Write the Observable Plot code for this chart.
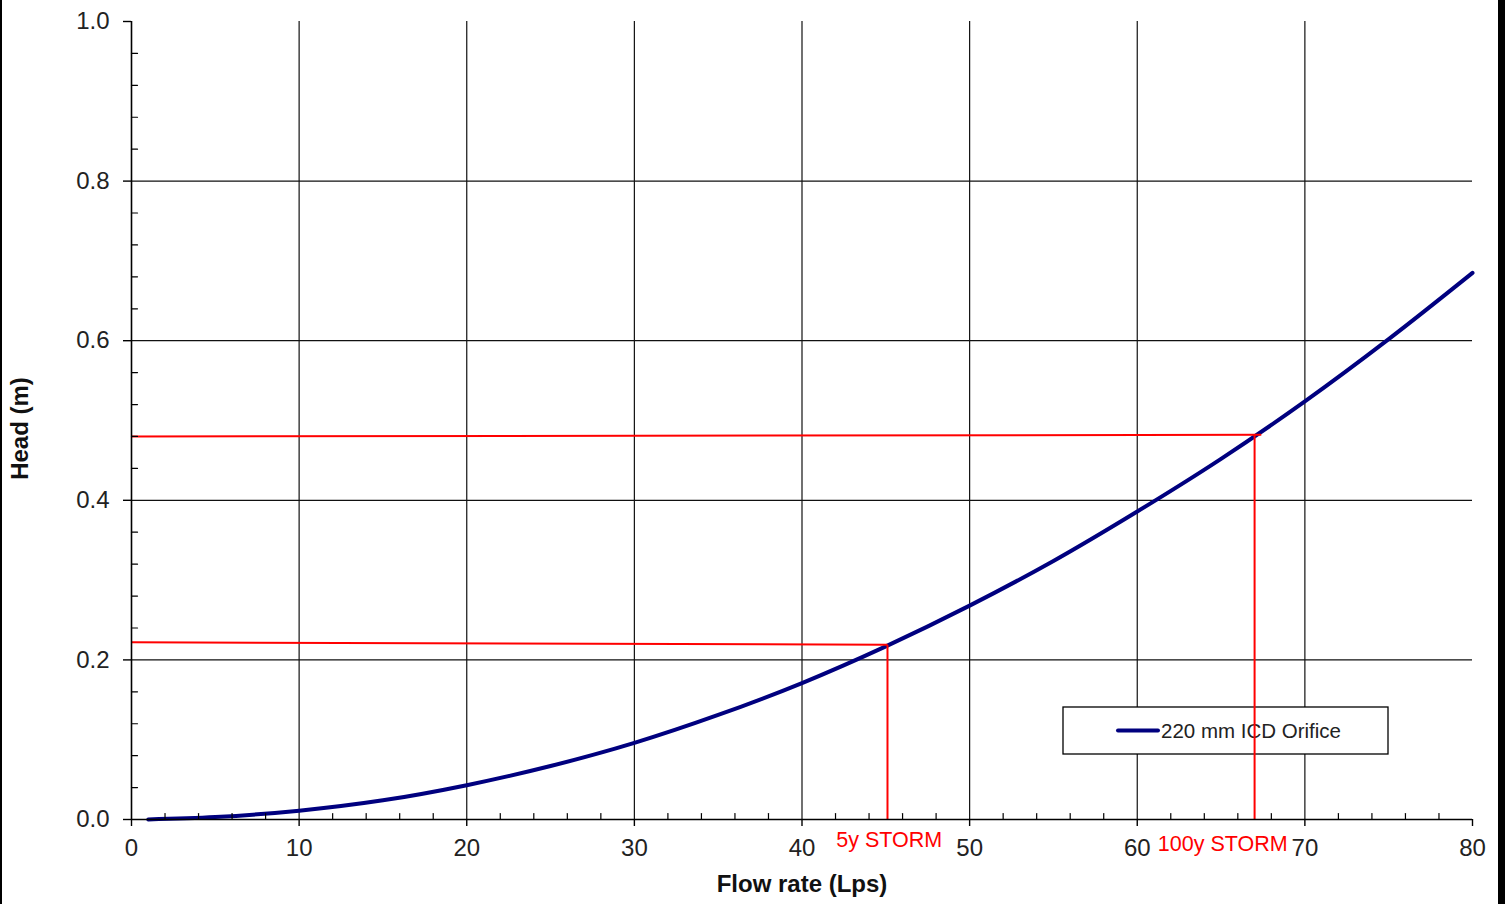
<!DOCTYPE html>
<html>
<head>
<meta charset="utf-8">
<script src="https://cdn.jsdelivr.net/npm/d3@7"></script>
<script src="https://cdn.jsdelivr.net/npm/@observablehq/plot@0.6"></script>
<style>
  html, body { margin: 0; padding: 0; background: #fff; }
  #wrap { position: relative; width: 1505px; height: 904px; overflow: hidden; background: #fff; }
  #wrap svg { display: block; }
  .edgeL { position: absolute; left: 0; top: 0; width: 2px; height: 904px; background: #000; }
  .edgeR { position: absolute; left: 1498px; top: 0; width: 7px; height: 904px; background: #000; }
</style>
</head>
<body>
<div id="wrap"><div class="edgeL"></div><div class="edgeR"></div></div>
<script>
// Flow rate (Lps) vs head (m)
const flowRate = [1, 5, 10, 15, 20, 25, 30, 35, 40, 45, 50, 55, 60, 65, 70, 75, 80];
const head     = [0.000, 0.003, 0.011, 0.024, 0.043, 0.067, 0.096, 0.131, 0.171, 0.217, 0.268, 0.324, 0.386, 0.452, 0.524, 0.602, 0.685];

const seriesName = "220 mm ICD Orifice";
const xLabel = "Flow rate (Lps)";
const yLabel = "Head (m)";

// Storm design points
const stormLabels = ["5y STORM", "100y STORM"];
const stormFlow   = [45.1, 67.0];
const stormHeadAxis = [0.222, 0.480];   // head where the horizontal guide meets the y axis
const stormHead   = [0.219, 0.482];     // head at the curve
const stormHEnd   = [45.1, 67.4];       // end of horizontal guide
const stormLabelX = [45.2, 65.1];

const xTicks = [0, 10, 20, 30, 40, 50, 60, 70, 80];
const xGrid = [10, 20, 30, 40, 50, 60, 70];
const xMinor = d3.range(2, 80, 2).filter(v => v % 10 !== 0);
const yTicks = [0, 0.2, 0.4, 0.6, 0.8, 1.0];
const yGrid = [0.2, 0.4, 0.6, 0.8];
const yMinor = d3.range(0.04, 1.0, 0.04).map(v => +v.toFixed(2)).filter(v => Math.abs(v / 0.2 - Math.round(v / 0.2)) > 1e-6);

const curve = flowRate.map((q, i) => ({q, h: head[i]}));
const storms = stormLabels.map((label, i) => ({
  label, q: stormFlow[i], h0: stormHeadAxis[i], h: stormHead[i], qEnd: stormHEnd[i], lx: stormLabelX[i], i
}));

const tickShape = {draw(context, l) { context.moveTo(0, 0); context.lineTo(0, -l); }};

const NAVY = "#00007f";
const RED = "#ff0000";
const FONT = "'Liberation Sans', Arial, sans-serif";

// legend drawn as a custom render mark (white box over the grid)
function legendMark(index, scales, values, dimensions) {
  const g = d3.create("svg:g");
  const bx = 1063, by = 707, bw = 325, bh = 47;
  g.append("rect").attr("x", bx).attr("y", by).attr("width", bw).attr("height", bh)
    .attr("fill", "#fff").attr("stroke", "#000").attr("stroke-width", 1.3);
  g.append("line").attr("x1", 1118).attr("x2", 1158).attr("y1", 730.5).attr("y2", 730.5)
    .attr("stroke", NAVY).attr("stroke-width", 4).attr("stroke-linecap", "round");
  g.append("text").attr("x", 1161).attr("y", 730.5).attr("dy", "0.35em")
    .attr("text-anchor", "start")
    .attr("font-family", FONT).attr("font-size", 20.5).attr("fill", "#222")
    .text(seriesName);
  return g.node();
}

const chart = Plot.plot({
  width: 1505,
  height: 904,
  marginLeft: 131,
  marginRight: 33,
  marginTop: 21,
  marginBottom: 85,
  style: {fontFamily: FONT, background: "#fff", overflow: "visible"},
  x: {domain: [0, 80]},
  y: {domain: [0, 1]},
  marks: [
    Plot.gridX(xGrid, {stroke: "#111", strokeOpacity: 1, strokeWidth: 1.2}),
    Plot.gridY(yGrid, {stroke: "#111", strokeOpacity: 1, strokeWidth: 1.2}),
    legendMark,
    Plot.line(curve, {x: "q", y: "h", stroke: NAVY, strokeWidth: 4, curve: "catmull-rom"}),
    // horizontal storm guides
    Plot.link(storms, {x1: 0, y1: "h0", x2: "qEnd", y2: "h", stroke: RED, strokeWidth: 2}),
    // vertical storm guides
    Plot.link(storms, {x1: "q", y1: "h", x2: "q", y2: 0, stroke: RED, strokeWidth: 2}),
    // axes lines
    Plot.ruleX([0], {stroke: "#000", strokeWidth: 1.6}),
    Plot.ruleY([0], {stroke: "#000", strokeWidth: 1.6}),
    // minor ticks (inside)
    Plot.vector(yMinor, {x: 0, y: d => d, length: 6, rotate: 90, anchor: "start", shape: tickShape, stroke: "#000", strokeWidth: 1.2}),
    Plot.vector(xMinor, {x: d => d, y: 0, length: 6, rotate: 0, anchor: "start", shape: tickShape, stroke: "#000", strokeWidth: 1.2}),
    // major axes
    Plot.axisY(yTicks, {
      tickSize: 8, tickPadding: 14, tickFormat: d3.format(".1f"),
      fontSize: 24, color: "#222", stroke: "#000", strokeWidth: 1.4,
      label: yLabel, labelAnchor: "center", labelOffset: 121, labelArrow: "none"
    }),
    Plot.axisX(xTicks, {
      tickSize: 7, tickPadding: 12, tickFormat: d => String(d),
      fontSize: 24, color: "#222", stroke: "#000", strokeWidth: 1.4,
      label: xLabel, labelAnchor: "center", labelOffset: 72, labelArrow: "none"
    }),
    // storm labels
    Plot.text(storms.filter(d => d.i === 0), {
      x: "lx", y: 0, text: "label", fill: RED, fontSize: 21.5,
      textAnchor: "middle", dy: 21
    }),
    Plot.text(storms.filter(d => d.i === 1), {
      x: "lx", y: 0, text: "label", fill: RED, fontSize: 21.5,
      textAnchor: "middle", dy: 24.5
    })
  ]
});

// style axis labels (bold, larger)
chart.querySelectorAll("g[aria-label='y-axis label'] text, g[aria-label='x-axis label'] text").forEach(n => {
  n.setAttribute("font-weight", "bold");
  n.setAttribute("font-size", "24");
  n.setAttribute("fill", "#111");
});
chart.querySelectorAll("g[aria-label='y-axis label'] text").forEach(n => n.setAttribute("dx", "-8"));

document.getElementById("wrap").prepend(chart);
</script>
</body>
</html>
